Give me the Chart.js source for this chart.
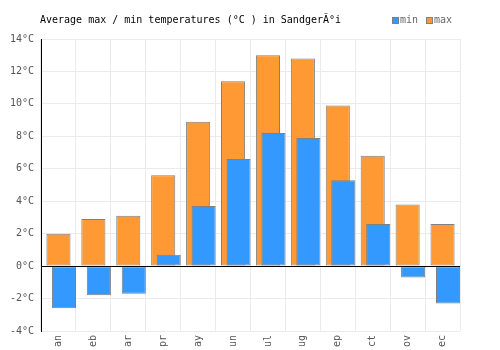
<!DOCTYPE html>
<html>
<head>
<meta charset="utf-8">
<script src="https://cdn.jsdelivr.net/npm/chart.js@4/dist/chart.umd.min.js"></script>
<style>
  html, body { margin: 0; padding: 0; background: #fff; }
  #wrap { width: 500px; height: 350px; }
</style>
</head>
<body>
<div id="wrap"><canvas id="chart"></canvas></div>
<script>
var months = ["an", "eb", "ar", "pr", "ay", "un", "ul", "ug", "ep", "ct", "ov", "ec"];
var minTemps = [-2.6, -1.8, -1.7, 0.7, 3.7, 6.6, 8.2, 7.9, 5.3, 2.6, -0.7, -2.3];
var maxTemps = [2.0, 2.9, 3.1, 5.6, 8.9, 11.4, 13.0, 12.8, 9.9, 6.8, 3.8, 2.6];
var titleText = "Average max / min temperatures (°C ) in SandgerÃ°i";

var monoFont = "'DejaVu Sans Mono', 'Liberation Mono', monospace";

// min bars are drawn shifted a bit to the right of the max bars
var shiftPlugin = {
    id: "shiftMin",
    beforeDatasetDraw: function(chart, args) {
        if (args.index === 0) {
            chart.ctx.save();
            chart.ctx.translate(5.5, 0);
        }
    },
    afterDatasetDraw: function(chart, args) {
        if (args.index === 0) {
            chart.ctx.restore();
        }
    }
};

// title, legend, zero line and rotated month labels
var extrasPlugin = {
    id: "extras",
    afterDatasetsDraw: function(chart) {
        var ctx = chart.ctx;
        var area = chart.chartArea;
        var x = chart.scales.x;
        var y = chart.scales.y;
        ctx.save();

        // zero line over the bars
        var y0 = Math.round(y.getPixelForValue(0)) + 0.5;
        ctx.strokeStyle = "#000";
        ctx.lineWidth = 1;
        ctx.beginPath();
        ctx.moveTo(area.left, y0);
        ctx.lineTo(area.right, y0);
        ctx.stroke();

        // month labels, reading bottom to top
        ctx.fillStyle = "#555";
        ctx.font = "10px " + monoFont;
        ctx.textAlign = "right";
        ctx.textBaseline = "middle";
        months.forEach(function(m, i) {
            var px = x.getPixelForValue(i);
            ctx.save();
            ctx.translate(px, area.bottom + 4);
            ctx.rotate(-Math.PI / 2);
            ctx.fillText(m, 0, 0);
            ctx.restore();
        });

        // title
        ctx.fillStyle = "#000";
        ctx.textAlign = "left";
        ctx.fillText(titleText, 40, 20);

        // legend
        var lx = 392;
        chart.data.datasets.forEach(function(ds) {
            ctx.fillStyle = ds.backgroundColor;
            ctx.fillRect(lx, 17, 6, 6);
            ctx.strokeStyle = "#808080";
            ctx.strokeRect(lx + 0.5, 17.5, 6, 6);
            ctx.fillStyle = "#666";
            ctx.fillText(ds.label, lx + 8, 20);
            lx += 34;
        });
        ctx.restore();
    }
};

new Chart(document.getElementById("chart"), {
    type: "bar",
    data: {
        labels: months,
        datasets: [{
            label: "min",
            data: minTemps,
            backgroundColor: "#3399ff",
            borderColor: "#808080",
            borderWidth: 1,
            borderSkipped: false,
            grouped: false,
            categoryPercentage: 1,
            barPercentage: 0.69
        }, {
            label: "max",
            data: maxTemps,
            backgroundColor: "#ff9933",
            borderColor: "#808080",
            borderWidth: 1,
            borderSkipped: false,
            grouped: false,
            categoryPercentage: 1,
            barPercentage: 0.69
        }]
    },
    options: {
        responsive: true,
        maintainAspectRatio: false,
        animation: false,
        layout: {
            padding: { top: 39, right: 40, bottom: 19, left: 0 }
        },
        plugins: {
            legend: { display: false },
            tooltip: { enabled: false }
        },
        scales: {
            x: {
                ticks: { display: false },
                grid: { color: "#ebebeb", drawTicks: false, offset: true },
                border: { display: false }
            },
            y: {
                min: -4,
                max: 14,
                ticks: {
                    stepSize: 2,
                    padding: 7,
                    color: "#555",
                    font: { family: monoFont, size: 10 },
                    callback: function(v) { return v + "°C"; }
                },
                grid: { color: "#ebebeb", drawTicks: false },
                border: { color: "#000", width: 1 },
                afterFit: function(scale) { scale.width = 41; }
            }
        }
    },
    plugins: [shiftPlugin, extrasPlugin]
});
</script>
</body>
</html>
